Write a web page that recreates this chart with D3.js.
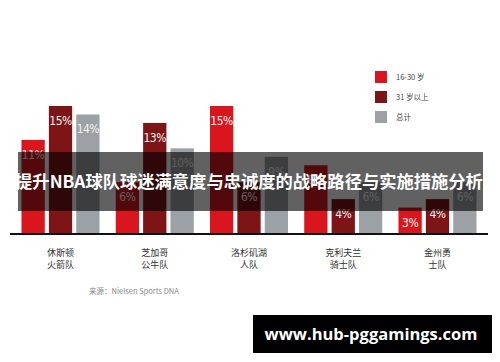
<!DOCTYPE html>
<html>
<head>
<meta charset="utf-8">
<script src="https://cdnjs.cloudflare.com/ajax/libs/d3/7.8.5/d3.min.js"></script>
<style>
  body { margin: 0; background: #fff; }
  svg { display: block; }
  .val { font-family: 'DejaVu Sans', sans-serif; font-stretch: condensed; }
</style>
</head>
<body>
<script>
// data (percent)
let teams = ['休斯顿火箭队', '芝加哥公牛队', '洛杉矶湖人队', '克利夫兰骑士队', '金州勇士队'];
let teamLines = [['休斯顿', '火箭队'], ['芝加哥', '公牛队'], ['洛杉矶湖', '人队'], ['克利夫兰', '骑士队'], ['金州勇', '士队']];
let seriesNames = ['16-30 岁', '31 岁以上', '总计'];
let age16to30 = [11, 6, 15, 8, 3];
let age31plus = [15, 13, 6, 4, 4];
let total = [14, 10, 9, 6, 6];
let colors = ['#d9161d', '#7d1416', '#9ca1a6'];

let width = 500, height = 362;
let baseY = 233;

let svg = d3.select('body').append('svg')
  .attr('width', width)
  .attr('height', height);

let x0 = d3.scaleBand()
  .domain(teams)
  .range([10, 488])
  .paddingInner(0.172)
  .paddingOuter(0.122);

let x1 = d3.scaleBand()
  .domain(seriesNames)
  .range([0, x0.bandwidth()])
  .paddingInner(0.15);

let y = d3.scaleLinear()
  .domain([0, 15])
  .range([baseY, 106]);

let rows = teams.map((t, i) => {
  return { team: t, values: [age16to30[i], age31plus[i], total[i]] };
});

let groups = svg.selectAll('g.team')
  .data(rows)
  .enter()
  .append('g')
  .attr('class', 'team')
  .attr('transform', (d) => 'translate(' + x0(d.team) + ',0)');

let bars = groups.selectAll('g.bar')
  .data((d) => d.values.map((v, j) => ({ s: seriesNames[j], v: v, c: colors[j] })))
  .enter()
  .append('g')
  .attr('class', 'bar');

bars.append('rect')
  .attr('x', (d) => x1(d.s))
  .attr('y', (d) => y(d.v))
  .attr('width', x1.bandwidth())
  .attr('height', (d) => baseY - y(d.v))
  .attr('fill', (d) => d.c);

bars.append('text')
  .attr('class', 'val')
  .attr('x', (d) => x1(d.s) + x1.bandwidth() / 2)
  .attr('y', (d) => y(d.v) + 19)
  .attr('text-anchor', 'middle')
  .attr('font-size', 12)
  .attr('letter-spacing', -0.5)
  .attr('fill', '#f4f4f4')
  .text((d) => d.v + '%');

// axis line
svg.append('line')
  .attr('x1', 10).attr('x2', 488)
  .attr('y1', baseY + 1).attr('y2', baseY + 1)
  .attr('stroke', '#111')
  .attr('stroke-width', 2);

// team labels
let labels = svg.selectAll('text.team')
  .data(teams)
  .enter()
  .append('text')
  .attr('class', 'team')
  .attr('text-anchor', 'middle')
  .attr('font-family', "'Noto Sans CJK SC', sans-serif")
  .attr('font-size', 9)
  .attr('fill', '#333');

labels.selectAll('tspan')
  .data((d, i) => teamLines[i].map((l) => ({ l: l, x: x0(d) + x0.bandwidth() / 2 })))
  .enter()
  .append('tspan')
  .attr('x', (d) => d.x)
  .attr('y', (d, k) => 256 + k * 12)
  .text((d) => d.l);

svg.append('text')
  .attr('x', 89)
  .attr('y', 294)
  .attr('font-family', "'Noto Sans CJK SC', sans-serif")
  .attr('font-size', 7.5)
  .attr('fill', '#888')
  .text('来源：Nielsen Sports DNA');

// legend
let legend = svg.selectAll('g.legend')
  .data(seriesNames)
  .enter()
  .append('g')
  .attr('class', 'legend')
  .attr('transform', (d, i) => 'translate(375,' + (71 + i * 20) + ')');

legend.append('rect')
  .attr('width', 12)
  .attr('height', 12)
  .attr('fill', (d, i) => colors[i]);

legend.append('text')
  .attr('x', 21)
  .attr('y', 9)
  .attr('font-family', "'Noto Sans CJK SC', sans-serif")
  .attr('font-size', 7.5)
  .attr('fill', '#444')
  .text((d) => d);

// title banner
svg.append('rect')
  .attr('x', 18).attr('y', 152)
  .attr('width', 465).attr('height', 59)
  .attr('fill', '#000')
  .attr('opacity', 0.62);

svg.append('text')
  .attr('x', 249)
  .attr('y', 188)
  .attr('text-anchor', 'middle')
  .attr('font-family', "'Noto Sans CJK SC', sans-serif")
  .attr('font-weight', 'bold')
  .attr('font-size', 17.3)
  .attr('fill', '#fff')
  .text('提升NBA球队球迷满意度与忠诚度的战略路径与实施措施分析');

// watermark
svg.append('rect')
  .attr('x', 253).attr('y', 315)
  .attr('width', 239).attr('height', 38)
  .attr('fill', '#000');

svg.append('text')
  .attr('x', 371)
  .attr('y', 340)
  .attr('text-anchor', 'middle')
  .attr('font-family', "'Open Sans', sans-serif")
  .attr('font-weight', 'bold')
  .attr('font-size', 16.5)
  .attr('fill', '#fff')
  .text('www.hub-pggamings.com');
</script>
</body>
</html>
